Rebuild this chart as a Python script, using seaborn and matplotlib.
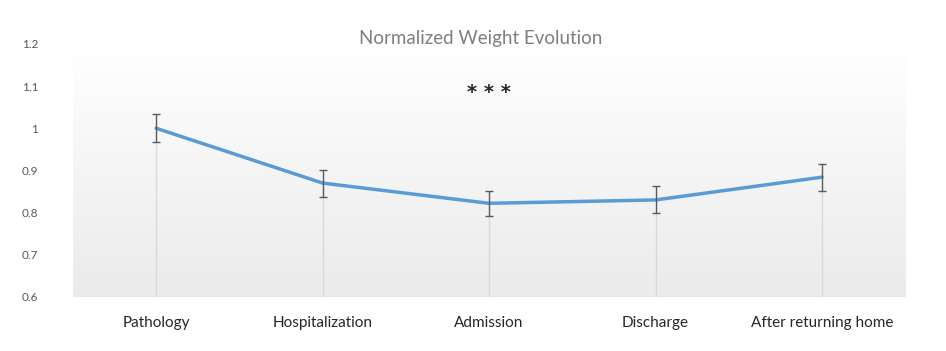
import numpy as np
import pandas as pd
import matplotlib
matplotlib.use("Agg")
import matplotlib.pyplot as plt
import seaborn as sns

# dados
stages = ["Pathology", "Hospitalization", "Admission", "Discharge", "After returning home"]
weight = [1.0, 0.870, 0.822, 0.830, 0.884]
err = [0.033, 0.032, 0.030, 0.032, 0.032]
y_ticks = [0.6, 0.7, 0.8, 0.9, 1.0, 1.1, 1.2]

sns.set_style("white")
plt.rcParams["font.family"] = ["Lato", "DejaVu Sans"]

df = pd.DataFrame({"stage": stages, "weight": weight, "err": err})

fig = plt.figure(figsize=(9.46, 3.51), dpi=100)
ax = fig.add_axes([0.077, 0.154, 0.88, 0.721])

# fundo em degrade (branco -> cinza claro)
grad = np.linspace(1, 0, 256).reshape(-1, 1)
cmap = plt.cm.colors.LinearSegmentedColormap.from_list("g", ["#ebebeb", "#ffffff"])
ax.imshow(grad, extent=[-0.5, 4.5, 0.6, 1.2], aspect="auto", cmap=cmap, vmin=0, vmax=1, zorder=0)

pos = np.arange(len(stages))
ax.vlines(pos, 0.6, df["weight"] - df["err"], color="#d9d9d9", lw=1, zorder=1)
sns.lineplot(data=df, x="stage", y="weight", color="#5b9bd5", lw=2.5, sort=False, ax=ax, zorder=3)
ax.errorbar(pos, df["weight"], yerr=df["err"], fmt="none", ecolor="#595959", elinewidth=1, capsize=3, capthick=1, zorder=4)

ax.set_xlim(-0.5, 4.5)
ax.set_ylim(0.6, 1.2)
ax.set_yticks(y_ticks)
ax.set_yticklabels([f"{v:g}" for v in y_ticks], fontsize=8.5, color="#595959")
ax.tick_params(axis="x", labelsize=11, colors="#262626", pad=10)
ax.tick_params(axis="y", pad=25, length=0)
ax.set_xlabel("")
ax.set_ylabel("")
for s in ax.spines.values():
    s.set_visible(False)
ax.axhline(0.6, color="#d9d9d9", lw=1, zorder=2)

ax.set_title("Normalized Weight Evolution", fontsize=13.5, color="#7f7f7f", pad=0, x=0.49)
ax.text(2, 1.085, "* * *", ha="center", va="center", fontsize=14, color="#262626",
        family="DejaVu Sans", fontweight="bold")

plt.savefig("out.png", dpi=100)
